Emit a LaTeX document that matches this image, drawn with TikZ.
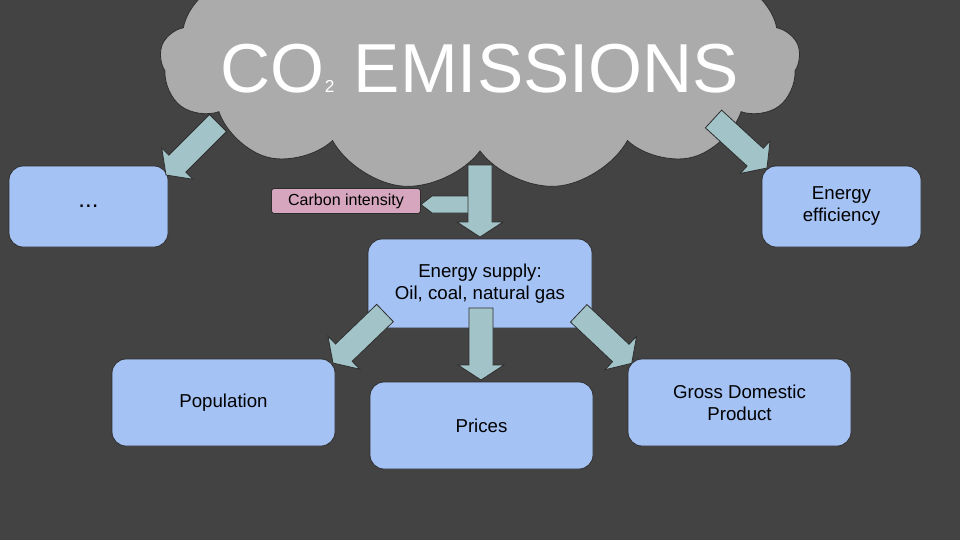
\documentclass[tikz,border=0pt]{standalone}
\usepackage{fontspec}
\setmainfont{Liberation Sans}
\usetikzlibrary{shapes.symbols,calc}

\definecolor{slidebg}{HTML}{434343}
\definecolor{boxblue}{HTML}{A4C2F4}
\definecolor{arrowteal}{HTML}{A2C4C9}
\definecolor{cloudgray}{HTML}{ABABAB}
\definecolor{carbonpink}{HTML}{D5A6BD}
\definecolor{edgegray}{HTML}{2E2E2E}

\tikzset{
	slidebox/.style={draw=edgegray,fill=boxblue,line width=.6pt,rounded corners=10.5pt,
		align=center,minimum width=167.25pt,minimum height=65.25pt,
		font=\fontsize{14}{16.5}\selectfont},
	smallbox/.style={slidebox,minimum width=119.25pt,minimum height=60.75pt},
	blockarr/.style={draw=edgegray,fill=arrowteal,line width=.6pt,line join=miter}
}

% tail, tip, half shaft, half head, head length (in px)
\newcommand{\blockarrow}[5]{
	\coordinate (hb) at ($(#2)!#5*0.75pt!(#1)$);
	\draw[blockarr] ($(#1)!#3*0.75pt!90:(#2)$) -- ($(hb)!#3*0.75pt!90:(#2)$)
		-- ($(hb)!#4*0.75pt!90:(#2)$) -- (#2) -- ($(hb)!#4*0.75pt!-90:(#2)$)
		-- ($(hb)!#3*0.75pt!-90:(#2)$) -- ($(#1)!#3*0.75pt!-90:(#2)$) -- cycle;
}

\begin{document}
\begin{tikzpicture}[x=.75pt,y=-.75pt]
	\useasboundingbox (0,0) rectangle (960,540);
	\clip (0,0) rectangle (960,540);
	\fill[slidebg] (0,0) rectangle (960,540);

	% cloud
	\node[cloud,cloud puffs=13,cloud puff arc=115,aspect=2.4,cloud ignores aspect,
		draw=edgegray,fill=cloudgray,line width=.6pt,inner sep=0pt,shape border rotate=270,
		minimum width=480pt,minimum height=195pt] (emis) at (480,60) {};
	\node[text=white,anchor=base,font=\fontsize{52}{52}\selectfont] (title) at (480,92)
		{CO{\fontsize{13}{13}\selectfont 2} EMISSIONS};

	% boxes
	\node[smallbox,font=\fontsize{18}{20}\selectfont] (dots) at (88.5,206.5) {...};
	\node[smallbox] (effic) at (841.5,206.5) {Energy\\efficiency};
	\node[draw=edgegray,fill=carbonpink,line width=.6pt,rounded corners=2pt,
		minimum width=111.75pt,minimum height=18.75pt,inner sep=0pt,
		font=\fontsize{12}{13}\selectfont] (carbon) at (346,201) {Carbon intensity\hspace{8pt}};
	\node[slidebox,minimum width=168pt,minimum height=66.75pt] (supply) at (480,283.5)
		{Energy supply:\\Oil, coal, natural gas};
	\node[slidebox] (pop) at (223.5,402.5) {Population};
	\node[slidebox] (prices) at (481.5,425.5) {Prices};
	\node[slidebox] (gdp) at (739.5,402.5) {Gross Domestic\\Product};

	% arrow ends
	\coordinate (lt-a) at (218,123);	\coordinate (lt-b) at (166,175);
	\coordinate (rt-a) at (713.5,119);	\coordinate (rt-b) at (767,168);
	\coordinate (ct-a) at (480,165);	\coordinate (ct-b) at (480,237);
	\coordinate (ci-a) at (470,204.5);	\coordinate (ci-b) at (421,204.5);
	\coordinate (lb-a) at (385,313);	\coordinate (lb-b) at (333,363);
	\coordinate (cb-a) at (481,308);	\coordinate (cb-b) at (481,380);
	\coordinate (rb-a) at (578.7,313.3);	\coordinate (rb-b) at (631.7,363.3);

	\blockarrow{lt-a}{lt-b}{12}{22}{16}
	\blockarrow{rt-a}{rt-b}{12}{22}{16}
	\blockarrow{ci-a}{ci-b}{8.5}{8.5}{11}
	\blockarrow{ct-a}{ct-b}{12}{23}{15}
	\blockarrow{lb-a}{lb-b}{12}{23}{15}
	\blockarrow{cb-a}{cb-b}{12}{23}{15}
	\blockarrow{rb-a}{rb-b}{12}{23}{15}
\end{tikzpicture}
\end{document}
